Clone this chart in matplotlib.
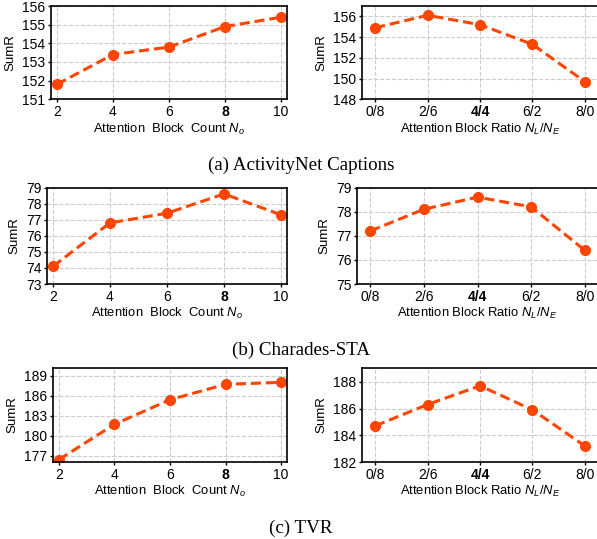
import matplotlib
matplotlib.use("Agg")
import matplotlib.pyplot as plt

plt.rcParams['font.family'] = ['Liberation Sans', 'DejaVu Sans']
plt.rcParams['mathtext.fontset'] = 'custom'
plt.rcParams['mathtext.it'] = 'Liberation Sans:italic'
plt.rcParams['mathtext.rm'] = 'Liberation Sans'

count_x = [2, 4, 6, 8, 10]
count_labels = ["2", "4", "6", "8", "10"]
ratio_labels = ["0/8", "2/6", "4/4", "6/2", "8/0"]

anet_count = [151.8, 153.4, 153.8, 154.9, 155.4]
anet_ratio = [154.9, 156.1, 155.2, 153.3, 149.7]
cha_count = [74.1, 76.8, 77.4, 78.6, 77.3]
cha_ratio = [77.2, 78.1, 78.6, 78.2, 76.4]
tvr_count = [176.4, 181.7, 185.4, 187.7, 188.0]
tvr_ratio = [184.7, 186.3, 187.7, 185.9, 183.2]

captions = ["(a) ActivityNet Captions", "(b) Charades-STA", "(c) TVR"]

W, H = 597, 539
fig = plt.figure(figsize=(W / 100, H / 100), dpi=100)

def add_ax(x0, y0, x1, y1):
    return fig.add_axes([x0 / W, 1 - y1 / H, (x1 - x0) / W, (y1 - y0) / H])

color = '#FF4500'

def style(ax, ylim, yticks):
    ax.set_ylim(*ylim)
    ax.set_yticks(yticks)
    ax.grid(True, linestyle='--', color='#cccccc', linewidth=0.8)
    ax.set_axisbelow(True)
    ax.set_ylabel('SumR', fontsize=9.5, labelpad=4)
    ax.tick_params(labelsize=10, length=2.5, width=1, pad=1.5)
    for s in ax.spines.values():
        s.set_linewidth(1.2)

def draw(ax, xs, vals):
    ax.plot(xs, vals, '--o', color=color, linewidth=2.2, markersize=7, dashes=(3.3, 1.6))

def count_panel(ax, vals, ylim, yticks):
    draw(ax, count_x, vals)
    ax.set_xlim(1.79, 10.21)
    ax.set_xticks(count_x)
    ax.set_xticklabels(count_labels)
    ax.get_xticklabels()[3].set_fontweight('bold')
    style(ax, ylim, yticks)
    ax.set_xlabel('Attention  Block  Count $N_o$', fontsize=9.4, labelpad=2)

def ratio_panel(ax, vals, ylim, yticks):
    xs = list(range(len(ratio_labels)))
    draw(ax, xs, vals)
    ax.set_xlim(-0.25, 4.25)
    ax.set_xticks(xs)
    ax.set_xticklabels(ratio_labels)
    ax.get_xticklabels()[2].set_fontweight('bold')
    style(ax, ylim, yticks)
    ax.set_xlabel('Attention Block Ratio $N_L/N_E$', fontsize=9.4, labelpad=2)

# (a)
ax = add_ax(51, 6, 287, 99.3)
count_panel(ax, anet_count, (151, 156), [151, 152, 153, 154, 155, 156])
ax = add_ax(362, 6, 598, 99.3)
ratio_panel(ax, anet_ratio, (148, 157), [148, 150, 152, 154, 156])

# (b)
ax = add_ax(47, 187.5, 287, 284)
count_panel(ax, cha_count, (73, 79), [73, 74, 75, 76, 77, 78, 79])
ax = add_ax(357, 187.5, 598, 284)
ratio_panel(ax, cha_ratio, (75, 79), [75, 76, 77, 78, 79])

# (c)
ax = add_ax(53, 368, 287, 462)
count_panel(ax, tvr_count, (176.05, 190.15), [177, 180, 183, 186, 189])
ax = add_ax(362, 368, 598, 462)
ratio_panel(ax, tvr_ratio, (182, 189.03), [182, 184, 186, 188])

for cap, yc in zip(captions, [165, 350, 528]):
    fig.text(301 / W, 1 - yc / H, cap, ha='center', va='center',
             fontsize=13.7, family=['Liberation Serif', 'DejaVu Serif'])

fig.savefig('out.png', dpi=100)
